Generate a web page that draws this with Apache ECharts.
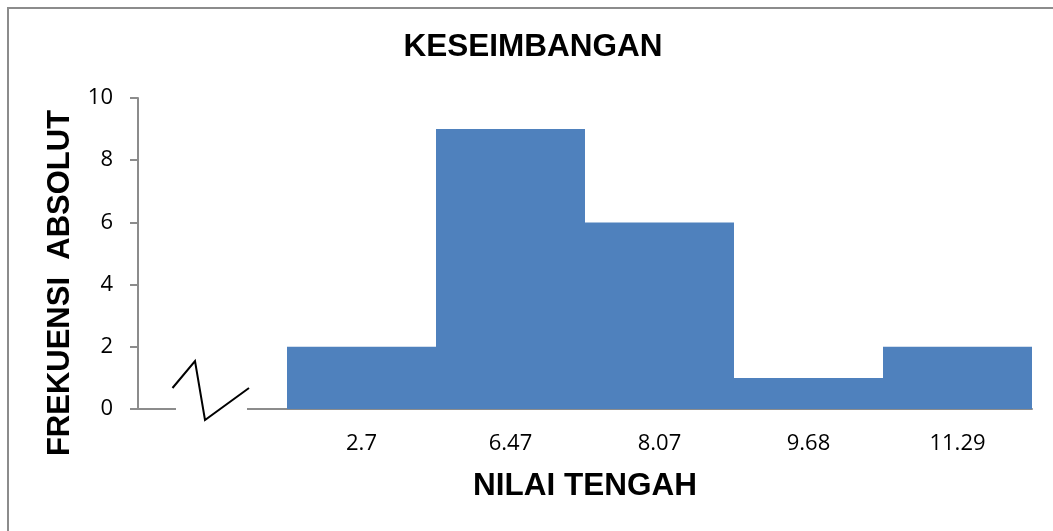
<!DOCTYPE html>
<html>
<head>
<meta charset="utf-8">
<script src="https://cdn.jsdelivr.net/npm/echarts@6/dist/echarts.min.js"></script>
<style>
  html, body { margin: 0; padding: 0; background: #ffffff; }
  #chart { width: 1053px; height: 531px; }
</style>
</head>
<body>
<div id="chart"></div>
<script>
// Frequency table: class midpoints and absolute frequencies
const titleText = 'KESEIMBANGAN';
const xAxisName = 'NILAI TENGAH';
const yAxisName = 'FREKUENSI  ABSOLUT';
const categories = ['', '2.7', '6.47', '8.07', '9.68', '11.29'];
const frequencies = [null, 2, 9, 6, 1, 2];
const yMin = 0;
const yMax = 10;
const yStep = 2;

const axisGray = '#8c8c8c';
const barBlue = '#4f81bd';
const tickFont = '"Open Sans", "Noto Sans", sans-serif';
const boldFont = '"Liberation Sans", Arial, sans-serif';

const chart = echarts.init(document.getElementById('chart'), null, { renderer: 'canvas' });

chart.setOption({
  animation: false,
  backgroundColor: '#ffffff',
  grid: { left: 138, right: 21, top: 98, bottom: 122, containLabel: false },
  xAxis: {
    type: 'category',
    data: categories,
    axisLine: { lineStyle: { color: axisGray, width: 2 } },
    axisTick: { show: false },
    axisLabel: { color: '#000000', fontFamily: tickFont, fontSize: 22, margin: 24 },
    splitLine: { show: false }
  },
  yAxis: {
    type: 'value',
    min: yMin,
    max: yMax,
    interval: yStep,
    axisLine: { show: true, lineStyle: { color: axisGray, width: 2 } },
    axisTick: { show: true, inside: false, length: 8, lineStyle: { color: axisGray, width: 2 } },
    axisLabel: { color: '#000000', fontFamily: tickFont, fontSize: 22, margin: 25 },
    splitLine: { show: false }
  },
  series: [{
    type: 'bar',
    data: frequencies,
    barCategoryGap: '0%',
    itemStyle: { color: barBlue },
    z: 2
  }],
  graphic: [
    {
      id: 'frame', type: 'rect', z: 0, silent: true,
      shape: { x: 8, y: 8, width: 1100, height: 600 },
      style: { fill: null, stroke: '#8c8c8c', lineWidth: 2 }
    },
    {
      id: 'title', type: 'text', x: 533, y: 47, z: 5,
      style: { text: titleText, font: 'bold 31.5px ' + boldFont, fill: '#000000',
               textAlign: 'center', textVerticalAlign: 'middle' }
    },
    {
      id: 'xname', type: 'text', x: 585, y: 486, z: 5,
      style: { text: xAxisName, font: 'bold 31.5px ' + boldFont, fill: '#000000',
               textAlign: 'center', textVerticalAlign: 'middle' }
    },
    {
      id: 'yname', type: 'text', x: 60, y: 283, rotation: Math.PI / 2, z: 5,
      style: { text: yAxisName, font: 'bold 31px ' + boldFont, fill: '#000000',
               textAlign: 'center', textVerticalAlign: 'middle' }
    }
  ]
});

// Axis-break marker drawn over the empty first category
const cx = chart.convertToPixel({ xAxisIndex: 0 }, 0);
const cy = chart.convertToPixel({ yAxisIndex: 0 }, 0);
chart.setOption({
  graphic: [
    {
      id: 'breakGap', type: 'rect', z: 10, silent: true,
      shape: { x: cx - 36.5, y: cy - 2, width: 71, height: 4 },
      style: { fill: '#ffffff' }
    },
    {
      id: 'breakLine', type: 'polyline', z: 11, silent: true,
      shape: { points: [[cx - 40, cy - 21], [cx - 17.5, cy - 48], [cx - 7.5, cy + 11], [cx + 36.5, cy - 21]] },
      style: { stroke: '#000000', lineWidth: 2, fill: null }
    }
  ]
});
</script>
</body>
</html>
